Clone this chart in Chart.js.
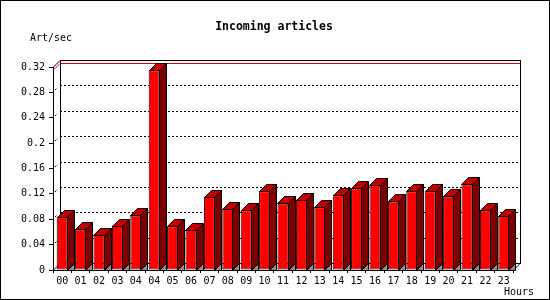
<!DOCTYPE html>
<html>
<head>
<meta charset="utf-8">
<script src="https://cdn.jsdelivr.net/npm/chart.js@4/dist/chart.umd.min.js"></script>
<style>
  html, body { margin: 0; padding: 0; background: #fff; }
  canvas { display: block; }
</style>
</head>
<body>
<canvas id="hours" width="550" height="300"></canvas>
<script>
// hour labels, as printed under the bars (04 appears twice)
var hourLabels = ['00', '01', '02', '03', '04', '04', '05', '06', '07', '08', '09', '10',
  '11', '12', '13', '14', '15', '16', '17', '18', '19', '20', '21', '22', '23'];
// articles per second
var artPerSec = [0.084, 0.064, 0.055, 0.070, 0.086, 0.315, 0.069, 0.063, 0.115, 0.096, 0.094, 0.124,
  0.105, 0.111, 0.099, 0.118, 0.129, 0.134, 0.108, 0.124, 0.124, 0.116, 0.135, 0.094, 0.085];
var yTicks = [0, 0.04, 0.08, 0.12, 0.16, 0.2, 0.24, 0.28, 0.32];

var depth = 7;
var monoFont = '"DejaVu Sans Mono", "Liberation Mono", monospace';

function line(ctx, x1, y1, x2, y2) {
  ctx.beginPath();
  ctx.moveTo(x1, y1);
  ctx.lineTo(x2, y2);
  ctx.stroke();
}

function poly(ctx, pts, fill) {
  ctx.beginPath();
  ctx.moveTo(pts[0][0], pts[0][1]);
  for (var i = 1; i < pts.length; i++) ctx.lineTo(pts[i][0], pts[i][1]);
  ctx.closePath();
  ctx.fillStyle = fill;
  ctx.fill();
  ctx.stroke();
}

// back wall, grid and the 3d faces of the bars
var box3d = {
  id: 'box3d',
  beforeDatasetsDraw: function(chart) {
    var ctx = chart.ctx, a = chart.chartArea, ys = chart.scales.y;
    var L = Math.round(a.left), R = Math.round(a.right), T = Math.round(a.top), B = Math.round(a.bottom);
    ctx.save();
    ctx.strokeStyle = '#000';
    ctx.lineWidth = 1;

    ctx.setLineDash([2, 2]);
    yTicks.forEach(function(v) {
      if (v <= 0 || v >= yTicks[yTicks.length - 1]) return;
      var py = Math.round(ys.getPixelForValue(v));
      line(ctx, L + depth, py - depth + 0.5, R + depth, py - depth + 0.5);
      line(ctx, L + 2, py - 2, L + 5, py - 5);
    });
    ctx.setLineDash([]);

    ctx.strokeRect(L + depth + 0.5, T - depth + 0.5, R - L, B - T);
    line(ctx, L, T + 0.5, L + depth, T - depth + 0.5);
    line(ctx, L, B + 0.5, L + depth, B - depth + 0.5);
    line(ctx, R, B + 0.5, R + depth, B - depth + 0.5);

    // max value line on the back wall
    var maxY = Math.round(ys.getPixelForValue(Math.max.apply(null, artPerSec)));
    ctx.strokeStyle = '#e00000';
    line(ctx, L + depth + 1, maxY - depth + 0.5, R + depth, maxY - depth + 0.5);
    line(ctx, L, maxY + 0.5, L + depth, maxY - depth + 0.5);
    ctx.restore();
  },
  afterDatasetsDraw: function(chart) {
    var ctx = chart.ctx;
    var meta = chart.getDatasetMeta(0);
    ctx.save();
    ctx.strokeStyle = '#000';
    ctx.lineWidth = 1;
    meta.data.forEach(function(bar) {
      var p = bar.getProps(['x', 'y', 'base', 'width'], true);
      var xl = Math.round(p.x - p.width / 2) + 0.5;
      var xr = Math.round(p.x + p.width / 2) - 0.5;
      var top = Math.round(p.y) + 0.5;
      var base = Math.round(p.base) + 0.5;
      poly(ctx, [[xl, top], [xl + depth, top - depth], [xr + depth, top - depth], [xr, top]], '#c40000');
      poly(ctx, [[xr, top], [xr + depth, top - depth], [xr + depth, base - depth], [xr, base]], '#7c0000');
      poly(ctx, [[xr, base], [xr + depth, base - depth], [xr + depth, base]], '#8c8c8c');
    });
    ctx.restore();
  },
  afterDraw: function(chart) {
    var ctx = chart.ctx;
    ctx.save();
    ctx.fillStyle = '#000';
    ctx.textBaseline = 'middle';
    ctx.font = 'bold 11.5px ' + monoFont;
    ctx.textAlign = 'center';
    ctx.fillText('Incoming articles', 274, 27);
    ctx.font = '10px ' + monoFont;
    ctx.textAlign = 'left';
    ctx.fillText('Art/sec', 30, 38);
    ctx.textAlign = 'right';
    ctx.fillText('Hours', 534, 292);
    ctx.strokeStyle = '#000';
    ctx.strokeRect(0.5, 0.5, 549, 299);
    ctx.restore();
  }
};

var ctx = document.getElementById('hours').getContext('2d');
var myChart = new Chart(ctx, {
  type: 'bar',
  data: {
    labels: hourLabels,
    datasets: [{
      label: 'Art/sec',
      data: artPerSec,
      backgroundColor: '#ff0000',
      borderColor: '#000',
      borderWidth: 1,
      borderSkipped: false,
      barPercentage: 0.6,
      categoryPercentage: 1.0
    }]
  },
  options: {
    responsive: false,
    animation: false,
    devicePixelRatio: 1,
    layout: { padding: { left: 0, top: 67, right: 37, bottom: 0 } },
    plugins: {
      legend: { display: false },
      title: { display: false },
      tooltip: { enabled: false }
    },
    scales: {
      x: {
        grid: { drawOnChartArea: false, tickLength: 3, color: '#000' },
        border: { display: true, color: '#000' },
        ticks: { color: '#000', font: { family: monoFont, size: 10 }, padding: 2, maxRotation: 0, autoSkip: false },
        afterFit: function(scale) { scale.height = 30; }
      },
      y: {
        min: 0,
        max: 0.32,
        afterBuildTicks: function(scale) {
          scale.ticks = yTicks.map(function(v) { return { value: v }; });
        },
        grid: { drawOnChartArea: false, tickLength: 4, color: '#000' },
        border: { display: true, color: '#000' },
        ticks: {
          color: '#000',
          font: { family: monoFont, size: 10 },
          padding: 4,
          callback: function(value) { return String(Math.round(value * 100) / 100); }
        },
        afterFit: function(scale) { scale.width = 53; }
      }
    }
  },
  plugins: [box3d]
});
</script>
</body>
</html>
